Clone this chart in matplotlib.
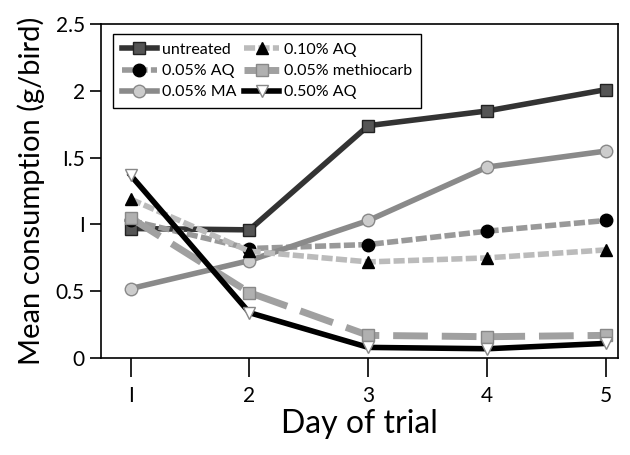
import matplotlib
matplotlib.use("Agg")
from matplotlib import pyplot as plt

days = [1, 2, 3, 4, 5]
untreated = [0.97, 0.96, 1.74, 1.85, 2.01]
aq_005 = [1.03, 0.82, 0.85, 0.95, 1.03]
ma_005 = [0.52, 0.73, 1.03, 1.43, 1.55]
aq_010 = [1.19, 0.80, 0.72, 0.75, 0.81]
methiocarb = [1.05, 0.49, 0.17, 0.16, 0.17]
aq_050 = [1.37, 0.34, 0.08, 0.07, 0.11]

plt.rcParams['font.family'] = ['Lato', 'DejaVu Sans']

fig = plt.figure(figsize=(6.3, 4.55), dpi=100)
ax = fig.add_axes([0.160, 0.213, 0.821, 0.734])

ax.plot(days, untreated, color="#333333", lw=4, marker="s", ms=8,
        mfc="#555555", mec="#222222", label="untreated")
ax.plot(days, aq_005, color="#999999", lw=4, ls=(0, (2, 0.6)), marker="o", ms=9,
        mfc="black", mec="black", label="0.05% AQ")
ax.plot(days, ma_005, color="#8a8a8a", lw=4, marker="o", ms=9,
        mfc="#cccccc", mec="#888888", label="0.05% MA")
ax.plot(days, aq_010, color="#bbbbbb", lw=4, ls=(0, (2, 0.6)), marker="^", ms=9,
        mfc="black", mec="black", label="0.10% AQ")
ax.plot(days, methiocarb, color="#a0a0a0", lw=5, ls=(0, (5, 2)), marker="s", ms=9,
        mfc="#b0b0b0", mec="#888888", label="0.05% methiocarb")
ax.plot(days, aq_050, color="black", lw=4, marker="v", ms=9,
        mfc="white", mec="#888888", label="0.50% AQ")

# Spalten werden zuerst gefuellt -> Reihenfolge bleibt wie geplottet
ax.legend(ncol=2, loc="upper left", bbox_to_anchor=(0.008, 0.995), fontsize=11.5,
          frameon=True, fancybox=False, edgecolor="black", handlelength=2.2,
          columnspacing=0.5, handletextpad=0.3, labelspacing=0.45,
          borderpad=0.55, framealpha=1)

ax.set_xlim(0.75, 5.1)
ax.set_ylim(0, 2.5)
ax.set_xticks(days)
ax.set_xticklabels(["I", "2", "3", "4", "5"])
ax.set_yticks([0, 0.5, 1, 1.5, 2, 2.5])
ax.set_yticklabels(["0", "0.5", "I", "I.5", "2", "2.5"])
ax.tick_params(axis="both", labelsize=15, length=8, width=1.2, direction="out")
ax.tick_params(axis="x", length=14, pad=6)
for sp in ax.spines.values():
    sp.set_linewidth(1.2)

ax.set_xlabel("Day of trial", fontsize=23, labelpad=2)
ax.set_ylabel("Mean consumption (g/bird)", fontsize=21, labelpad=8)

fig.savefig("out.png", dpi=100)
